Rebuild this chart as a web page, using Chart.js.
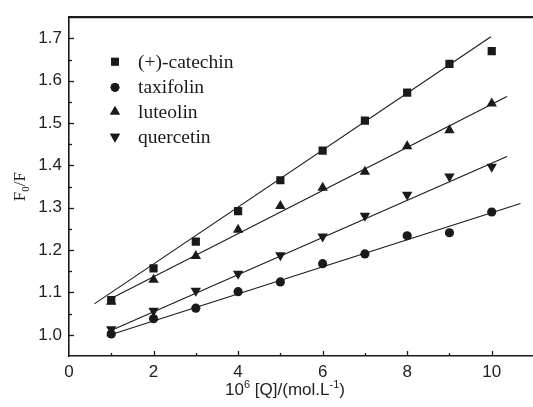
<!DOCTYPE html>
<html><head><meta charset="utf-8">
<script src="https://cdn.jsdelivr.net/npm/chart.js@4/dist/chart.umd.min.js"></script>
<style>html,body{margin:0;padding:0;background:#fff;overflow:hidden;width:533px;height:407px}canvas{display:block}</style>
</head><body>
<canvas id="c" width="540" height="407"></canvas>
<script>
const xValues = [1,2,3,4,5,6,7,8,9,10];
const seriesNames = ['(+)-catechin','taxifolin','luteolin','quercetin'];
const catechin  = [1.082,1.157,1.220,1.292,1.365,1.435,1.506,1.572,1.640,1.670];
const taxifolin = [1.002,1.038,1.063,1.102,1.125,1.168,1.191,1.234,1.241,1.290];
const luteolin  = [1.078,1.130,1.186,1.248,1.304,1.347,1.385,1.445,1.483,1.546];
const quercetin = [1.013,1.057,1.104,1.144,1.188,1.232,1.281,1.331,1.374,1.397];
// fitted line end points [x, y]
const catechinFit  = [[0.6,1.073],[9.98,1.704]];
const taxifolinFit = [[0.89,0.997],[10.68,1.310]];
const luteolinFit  = [[0.9,1.081],[10.36,1.563]];
const quercetinFit = [[0.9,1.006],[10.36,1.421]];
const xTicks = [0,2,4,6,8,10];
const yTicks = [1.0,1.1,1.2,1.3,1.4,1.5,1.6,1.7];

const INK = '#1a1a1a';
const toPts = (ys) => xValues.map((x,i)=>({x:x,y:ys[i]}));
const toLine = (arr) => arr.map(p=>({x:p[0],y:p[1]}));
const markers = [
  {style:'rect', r:5.8, rot:0},
  {style:'circle', r:4.6, rot:0},
  {style:'triangle', r:6, rot:0},
  {style:'triangle', r:6, rot:180}
];
const seriesData = [catechin, taxifolin, luteolin, quercetin];
const fits = [catechinFit, taxifolinFit, luteolinFit, quercetinFit];

const datasets = [];
seriesData.forEach((d,i)=>{
  datasets.push({label:seriesNames[i], data:toPts(d), showLine:false,
    pointStyle:markers[i].style, pointRadius:markers[i].r, pointRotation:markers[i].rot,
    pointBackgroundColor:INK, pointBorderColor:INK, pointBorderWidth:0, isMarker:true});
});
fits.forEach((f,i)=>{
  datasets.push({label:'fit'+i, data:toLine(f), showLine:true, pointRadius:0,
    borderColor:INK, borderWidth:1.1, fill:false});
});

const decor = {
  id:'decor',
  afterDraw(chart){
    const ctx = chart.ctx, a = chart.chartArea, xs = chart.scales.x, ys = chart.scales.y;
    ctx.save();
    ctx.strokeStyle = INK;
    // top frame line
    ctx.lineWidth = 2.2;
    ctx.beginPath(); ctx.moveTo(a.left, a.top); ctx.lineTo(a.right+4, a.top); ctx.stroke();
    ctx.lineWidth = 1.3;
    // x ticks (inward)
    for (let v=1; v<=11; v++){
      const px = Math.round(xs.getPixelForValue(v))+0.5;
      const len = (v%2===0)?5:3;
      ctx.beginPath(); ctx.moveTo(px, a.bottom); ctx.lineTo(px, a.bottom-len); ctx.stroke();
    }
    // y ticks (inward)
    for (let k=0; k<16; k++){
      const v = 0.95 + k*0.05;
      if (v < 0.96 || v > 1.74) continue;
      const py = Math.round(ys.getPixelForValue(v))+0.5;
      const major = (k%2===1);
      ctx.beginPath(); ctx.moveTo(a.left, py); ctx.lineTo(a.left+(major?5:3), py); ctx.stroke();
    }
    // legend
    const rows = [61.7, 87.3, 111.7, 136.7];
    ctx.fillStyle = INK;
    ctx.font = '19.5px "Liberation Serif"';
    ctx.textBaseline = 'middle';
    chart.data.datasets.filter(d=>d.isMarker).forEach((d,i)=>{
      ctx.fillStyle = INK; ctx.strokeStyle = INK;
      Chart.helpers.drawPoint(ctx, {pointStyle:d.pointStyle, rotation:d.pointRotation, radius:d.pointRadius*0.95, borderWidth:0}, 115, rows[i]);
      ctx.fill();
      ctx.fillText(d.label, 138, rows[i]+1);
    });
    // y axis title F0/F
    ctx.save();
    ctx.translate(25, (a.top+a.bottom)/2);
    ctx.rotate(-Math.PI/2);
    ctx.textBaseline = 'alphabetic';
    ctx.font = '17px "Liberation Serif"';
    const w1 = ctx.measureText('F').width;
    ctx.font = '11px "Liberation Serif"';
    const w2 = ctx.measureText('0').width;
    ctx.font = '17px "Liberation Serif"';
    const w3 = ctx.measureText('/F').width;
    let sx = -(w1+w2+w3)/2;
    ctx.fillText('F', sx, 0); sx += w1;
    ctx.font = '11px "Liberation Serif"'; ctx.fillText('0', sx, 4); sx += w2;
    ctx.font = '17px "Liberation Serif"'; ctx.fillText('/F', sx, 0);
    ctx.restore();
    // x axis title
    ctx.textBaseline = 'alphabetic';
    const big = '17px "Liberation Sans"', small = '11px "Liberation Sans"';
    const parts = [['10',big,0],['6',small,-7],[' [Q]/(mol.L',big,0],['-1',small,-7],[')',big,0]];
    let tw = 0;
    parts.forEach(p=>{ctx.font=p[1]; p.push(ctx.measureText(p[0]).width); tw+=p[3];});
    let x0 = 285 - tw/2;
    ctx.fillStyle = '#222';
    parts.forEach(p=>{ctx.font=p[1]; ctx.fillText(p[0], x0, 395+p[2]); x0+=p[3];});
    ctx.restore();
  }
};

new Chart(document.getElementById('c'), {
  type:'scatter',
  data:{datasets},
  options:{
    responsive:false, animation:false,
    layout:{padding:{top:13,right:4,left:0,bottom:0}},
    plugins:{legend:{display:false}, tooltip:{enabled:false}},
    scales:{
      x:{type:'linear', min:0, max:11,
        afterBuildTicks:(s)=>{s.ticks = xTicks.map(v=>({value:v}));},
        afterFit:(s)=>{s.height = 51;},
        grid:{display:false, drawTicks:false},
        border:{display:true, color:INK, width:1.6},
        ticks:{padding:6, color:'#222', font:{family:'Liberation Sans', size:17}, maxRotation:0}
      },
      y:{type:'linear', min:0.95, max:1.75,
        afterBuildTicks:(s)=>{s.ticks = yTicks.map(v=>({value:v}));},
        afterFit:(s)=>{s.width = 69;},
        grid:{display:false, drawTicks:false},
        border:{display:true, color:INK, width:1.6},
        ticks:{padding:7, color:'#222', font:{family:'Liberation Sans', size:17}, callback:(v)=>Number(v).toFixed(1)}
      }
    }
  },
  plugins:[decor]
});
</script>
</body></html>
